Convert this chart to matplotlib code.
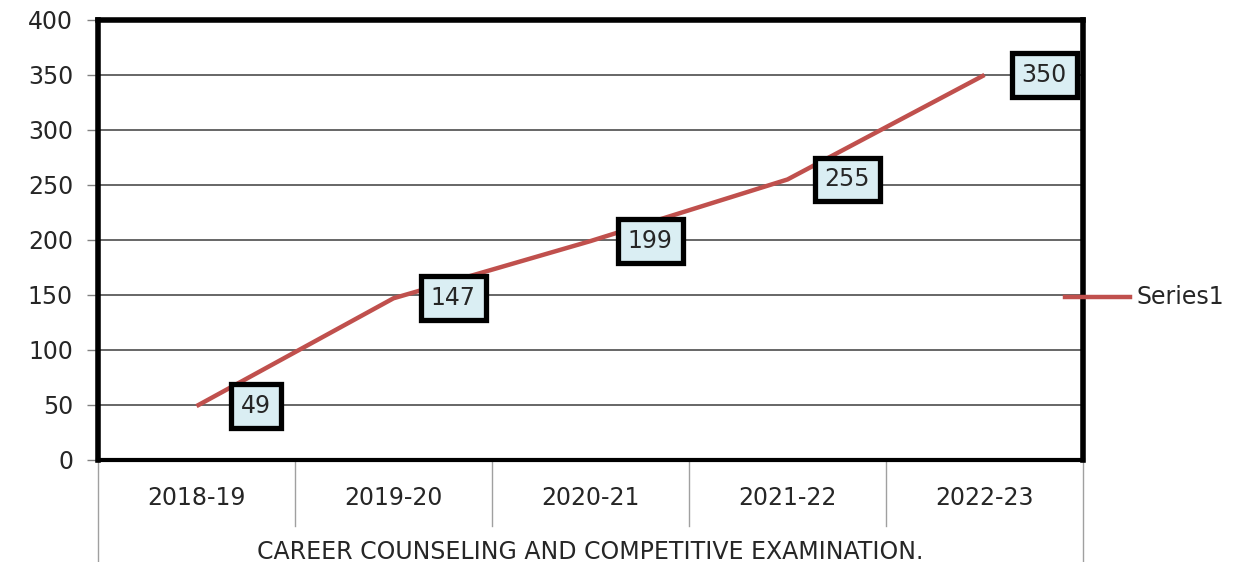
import matplotlib
matplotlib.use('Agg')
import matplotlib.pyplot as plt
import matplotlib.transforms as mtransforms

years = ['2018-19', '2019-20', '2020-21', '2021-22', '2022-23']
values = [49, 147, 199, 255, 350]
group_label = 'CAREER COUNSELING AND COMPETITIVE EXAMINATION.'
series_name = 'Series1'
yticks = [0, 50, 100, 150, 200, 250, 300, 350, 400]

plt.rcParams['font.family'] = ['DejaVu Sans']
txt_col = '#262626'
fs = 17

fig = plt.figure(figsize=(12.5, 5.62), dpi=100)
ax = fig.add_axes([0.0784, 0.1815, 0.788, 0.783])

xpos = [i + 0.5 for i in range(len(years))]
ax.plot(xpos, values, color='#C0504D', lw=3.2, solid_capstyle='butt')

ax.set_xlim(0, len(years))
ax.set_ylim(0, 400)
ax.set_yticks(yticks)
ax.set_yticklabels([str(v) for v in yticks], fontsize=fs, color=txt_col)
ax.tick_params(axis='y', length=8, width=1, color='#808080', pad=10)
ax.set_xticks([])
ax.grid(axis='y', color='#4d4d4d', lw=1.2)
ax.set_axisbelow(True)

for side in ['left', 'top', 'right']:
    ax.spines[side].set_linewidth(4)
    ax.spines[side].set_color('black')
ax.spines['bottom'].set_linewidth(3)
ax.spines['bottom'].set_color('black')

# data labels to the right of each point
for x, v in zip(xpos, values):
    ax.annotate(str(v), (x, v), xytext=(43, 0), textcoords='offset points',
                ha='center', va='center', fontsize=fs, color=txt_col,
                bbox=dict(boxstyle='square,pad=0.42', fc='#DAEEF3', ec='black', lw=3.8),
                zorder=5)

# multi-level category axis
tr = mtransforms.blended_transform_factory(ax.transData, ax.transAxes)
for i, yr in enumerate(years):
    ax.text(i + 0.5, -0.087, yr, transform=tr, ha='center', va='center',
            fontsize=fs, color=txt_col)
for i in range(1, len(years)):
    ax.plot([i, i], [0, -0.15], transform=tr, color='#A0A0A0', lw=1, clip_on=False)
for i in [0, len(years)]:
    ax.plot([i, i], [0, -0.29], transform=tr, color='#A0A0A0', lw=1, clip_on=False)
ax.text(len(years) / 2, -0.21, group_label, transform=tr, ha='center', va='center',
        fontsize=fs, color=txt_col)

# legend
fig.lines.append(plt.Line2D([1065 / 1250, 1130 / 1250], [1 - 297 / 562] * 2,
                            transform=fig.transFigure, color='#C0504D', lw=3.2))
fig.text(1137 / 1250, 1 - 297 / 562, series_name, ha='left', va='center',
         fontsize=fs, color=txt_col)

fig.savefig('out.png', dpi=100)
